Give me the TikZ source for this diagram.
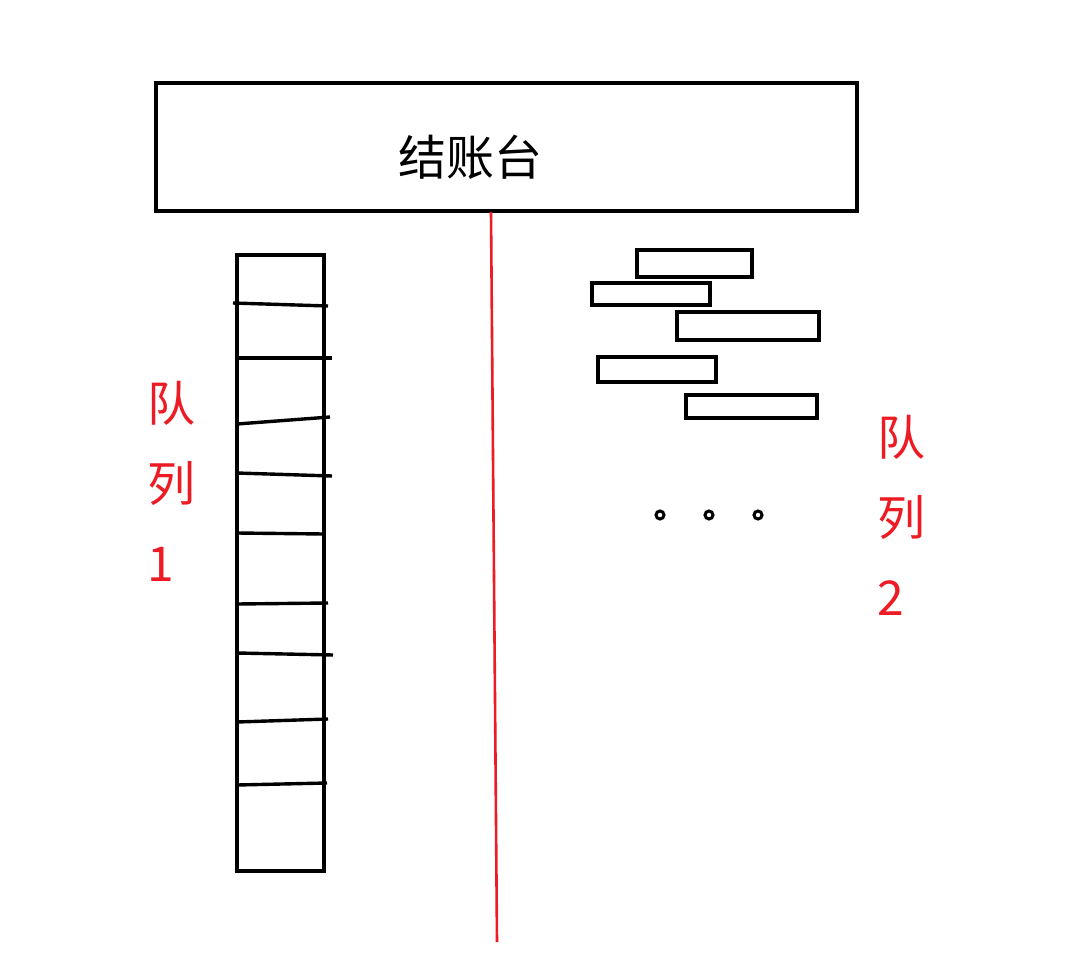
\documentclass[tikz,border=0pt]{standalone}
\usepackage{fontspec}
\setmainfont{Noto Sans CJK SC}
\usepackage{xcolor}
\usepackage{tikz}
\definecolor{paintred}{HTML}{ED1C24}

\begin{document}
\begin{tikzpicture}[x=1pt,y=-1pt,
 counter/.style={draw,line width=3.2pt,minimum width=701pt,minimum height=128pt,inner sep=0pt},
 bigtext/.style={font=\fontsize{48}{80}\selectfont},
 queuelabel/.style={bigtext,text=paintred,align=left,anchor=west,inner sep=0pt},
 slot/.style={draw,line width=3.2pt},
 divider/.style={draw=paintred,line width=2.6pt}
]
\useasboundingbox[fill=white] (0,0) rectangle (1087,966);

\node[counter] (counter) at (506.5,147) {};
\node[bigtext] (countername) at (470,157) {结账台};

\coordinate (splittop) at (491,212);
\coordinate (splitend) at (497,942);
\draw[divider] (splittop) -- (splitend);

% queue 1
\draw[slot] (237,255) rectangle (324,871);
\foreach \ya/\xb/\yb/\xa in {303/328/306/233, 358/332/358/237, 424/330/417/237, 473/332/476/237, 533/324/534/237, 604/328/603/237, 653/333/655/237, 722/328/719/237, 785/327/783/237}
 \draw[line width=3.4pt] (\xa,\ya) -- (\xb,\yb);
\node[queuelabel] (queueone) at (147,481) {队\\列\\1};

% queue 2
\draw[slot] (637,250) rectangle (752,277);
\draw[slot] (592,283) rectangle (710,305);
\draw[slot] (677,312) rectangle (819,340);
\draw[slot] (598,357) rectangle (716,382);
\draw[slot] (686,395) rectangle (817,418);
\draw[line width=3pt] (660,515) circle (4pt) (709,515) circle (4pt) (758,515) circle (4pt);
\node[queuelabel] (queuetwo) at (877,515) {队\\列\\2};
\end{tikzpicture}
\end{document}
